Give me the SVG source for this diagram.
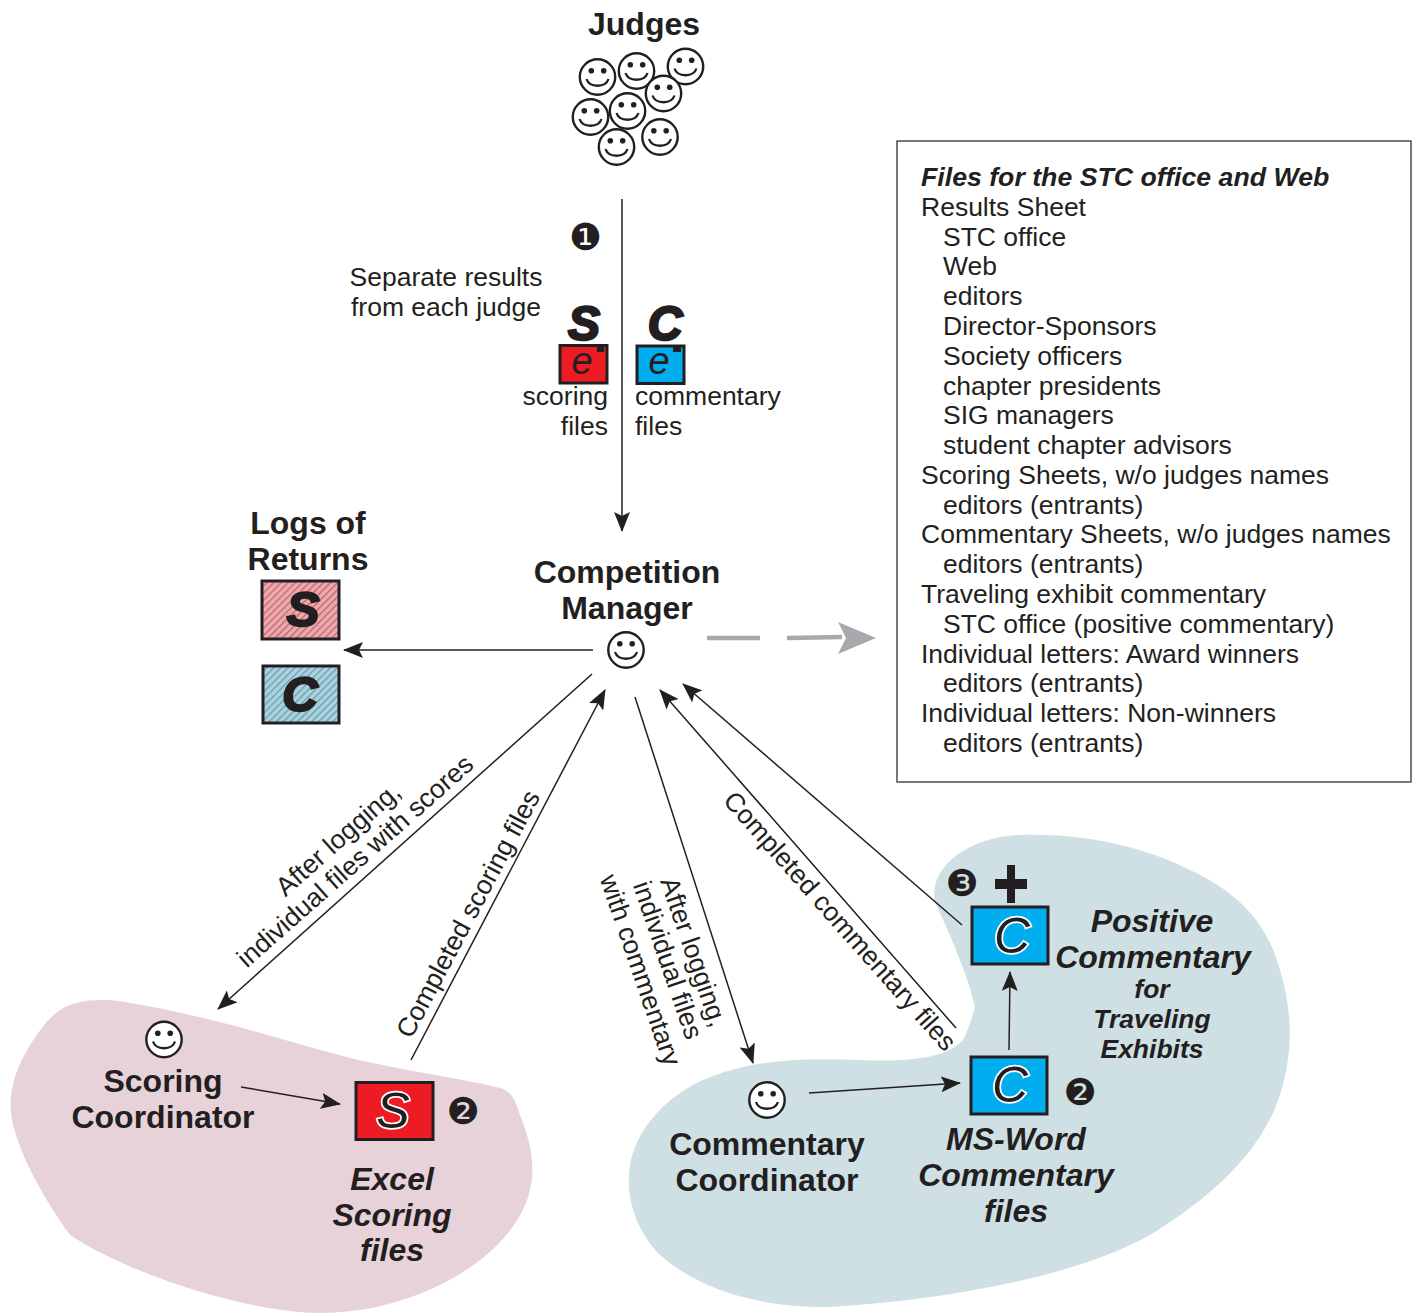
<svg xmlns="http://www.w3.org/2000/svg" width="1417" height="1313" viewBox="0 0 1417 1313">
<style>
text{font-family:"Liberation Sans",Arial,sans-serif;fill:#231f20}
.b{font-size:26.5px}
.h{font-size:32px;font-weight:bold;text-anchor:middle}
.i{font-size:32px;font-weight:bold;font-style:italic;text-anchor:middle}
.ii{font-size:26.5px;font-weight:bold;font-style:italic;text-anchor:middle}
.m{text-anchor:middle;dominant-baseline:central}
.e{text-anchor:end}
.n{font-family:"DejaVu Sans",sans-serif;font-size:37px;text-anchor:middle}
.box{stroke:#231f20;stroke-width:3}
.big{font-size:48px;font-weight:bold;font-style:italic;text-anchor:middle;stroke:#231f20;stroke-width:2.4}
.log{font-size:49px;font-weight:bold;font-style:italic;text-anchor:middle;stroke:#231f20;stroke-width:2.4}
.e1{font-size:38px;font-style:italic;text-anchor:middle}
.out{font-size:50px;font-style:italic;text-anchor:middle;stroke:#fff;stroke-width:3.4;paint-order:stroke}
.ln{fill:none;stroke:#231f20;stroke-width:1.5;marker-end:url(#a)}
</style>
<defs>
<marker id="a" markerUnits="userSpaceOnUse" markerWidth="20" markerHeight="16" refX="19" refY="8" orient="auto"><path d="M0,0L20,8L0,16L4,8Z" fill="#231f20"/></marker>
<pattern id="hp" width="5" height="5" patternUnits="userSpaceOnUse" patternTransform="rotate(45)"><rect width="5" height="5" fill="#f4a6ab"/><rect width="1.3" height="5" fill="#a97075"/></pattern>
<pattern id="hb" width="5" height="5" patternUnits="userSpaceOnUse" patternTransform="rotate(45)"><rect width="5" height="5" fill="#a9d3e1"/><rect width="1.3" height="5" fill="#6f9aa8"/></pattern>
<symbol id="smile" overflow="visible" viewBox="-20 -20 40 40" width="40" height="40">
<circle r="17.7" fill="#fff" stroke="#231f20" stroke-width="2.4"/>
<circle cx="-6.2" cy="-6.3" r="2.8" fill="#231f20"/><circle cx="6.2" cy="-6.3" r="2.8" fill="#231f20"/>
<path d="M-11,2C-8,11 8,11 11,2" fill="none" stroke="#231f20" stroke-width="2.3"/>
</symbol>
</defs>

<g id="blob-scoring"><path d="M60,1010C75,1000 100,998 125,1002C200,1014 270,1036 350,1058C400,1070 460,1078 500,1088C514,1092 516,1104 520,1115C530,1140 536,1165 530,1190C522,1225 490,1260 440,1285C400,1304 360,1313 320,1313C250,1313 130,1275 70,1235C45,1200 22,1160 13,1125C6,1095 15,1070 30,1045C40,1030 48,1018 60,1010Z" fill="#e8d2da"/></g>
<g id="blob-commentary"><path d="M1020,835C1080,833 1140,845 1190,870C1240,893 1268,925 1280,970C1292,1010 1294,1050 1280,1095C1262,1150 1215,1195 1150,1235C1080,1275 950,1300 830,1307C760,1308 700,1290 660,1255C635,1230 625,1195 630,1165C636,1130 665,1095 710,1077C760,1058 810,1058 860,1060C900,1062 945,1060 963,1040C968,1030 972,1018 975,1007C968,975 950,935 935,902C928,870 965,837 1020,835Z" fill="#cfe0e5"/></g>

<g id="connectors">
<path class="ln" d="M622,199V531"/>
<path class="ln" d="M593,650H344"/>
<path class="ln" d="M592,674L218,1009"/>
<path class="ln" d="M411,1060L605,690"/>
<path class="ln" d="M635,697L753,1063"/>
<path class="ln" d="M956,1028L660,690"/>
<path class="ln" d="M962,925L683,684"/>
<path class="ln" d="M241,1087L340,1104"/>
<path class="ln" d="M809,1093L960,1083"/>
<path class="ln" d="M1009,1050L1010,972"/>
<path d="M707,638H760M787,638L842,637" fill="none" stroke="#a7a9ac" stroke-width="4.5"/>
<path d="M838,622L876,638L838,654L846,638Z" fill="#a7a9ac"/>
</g>

<g id="judges">
<text class="h" x="644" y="35">Judges</text>
<use href="#smile" x="577.5" y="57"/><use href="#smile" x="616.5" y="51"/><use href="#smile" x="665.5" y="46.5"/><use href="#smile" x="643.5" y="73.5"/><use href="#smile" x="570.5" y="97"/><use href="#smile" x="607.5" y="91"/><use href="#smile" x="596.5" y="127"/><use href="#smile" x="640" y="117"/>
</g>

<g id="step1">
<text class="n" x="585.5" y="250">❶</text>
<text class="b" x="446" y="286" text-anchor="middle">Separate results</text>
<text class="b" x="446" y="316" text-anchor="middle">from each judge</text>
</g>

<g id="scoring-files">
<text class="big" x="584" y="340">S</text>
<rect class="box" x="560" y="345.5" width="47" height="37.5" fill="#ed1c24"/>
<rect x="597" y="347" width="7" height="5" fill="#231f20"/>
<text class="e1" x="582" y="374">e</text>
<text class="b e" x="608" y="405">scoring</text>
<text class="b e" x="608" y="435">files</text>
</g>
<g id="commentary-files">
<text class="big" x="665" y="340">C</text>
<rect class="box" x="637" y="346" width="47" height="37.5" fill="#00aeef"/>
<rect x="673" y="347" width="8" height="5" fill="#231f20"/>
<text class="e1" x="659" y="374">e</text>
<text class="b" x="635" y="405">commentary</text>
<text class="b" x="635" y="435">files</text>
</g>

<g id="logs">
<text class="h" x="308" y="534">Logs of</text>
<text class="h" x="308" y="570">Returns</text>
<rect class="box" x="262" y="581" width="77" height="58" fill="url(#hp)"/>
<text class="log" x="303" y="626">S</text>
<rect class="box" x="263" y="666" width="76" height="57" fill="url(#hb)"/>
<text class="log" x="300" y="711">C</text>
</g>

<g id="manager">
<text class="h" x="627" y="583">Competition</text>
<text class="h" x="627" y="619">Manager</text>
<use href="#smile" x="606" y="630"/>
</g>

<g id="files-box">
<rect x="897" y="141" width="514" height="641" fill="#fff" stroke="#231f20" stroke-width="1.2"/>
<text class="b" x="921" y="186" font-weight="bold" font-style="italic" style="font-size:26.7px">Files for the STC office and Web</text>
<text class="b" x="921" y="216">Results Sheet</text>
<text class="b" x="943" y="246">STC office</text>
<text class="b" x="943" y="275">Web</text>
<text class="b" x="943" y="305">editors</text>
<text class="b" x="943" y="335">Director-Sponsors</text>
<text class="b" x="943" y="365">Society officers</text>
<text class="b" x="943" y="395">chapter presidents</text>
<text class="b" x="943" y="424">SIG managers</text>
<text class="b" x="943" y="454">student chapter advisors</text>
<text class="b" x="921" y="484">Scoring Sheets, w/o judges names</text>
<text class="b" x="943" y="514">editors (entrants)</text>
<text class="b" x="921" y="543">Commentary Sheets, w/o judges names</text>
<text class="b" x="943" y="573">editors (entrants)</text>
<text class="b" x="921" y="603">Traveling exhibit commentary</text>
<text class="b" x="943" y="633">STC office (positive commentary)</text>
<text class="b" x="921" y="663">Individual letters: Award winners</text>
<text class="b" x="943" y="692">editors (entrants)</text>
<text class="b" x="921" y="722">Individual letters: Non-winners</text>
<text class="b" x="943" y="752">editors (entrants)</text>
</g>

<g id="connector-labels">
<text class="b m" transform="translate(338,839) rotate(-41.5)">After logging,</text>
<text class="b m" transform="translate(355,861) rotate(-41.5)">individual files with scores</text>
<text class="b m" transform="translate(468,914) rotate(-62)">Completed scoring files</text>
<text class="b m" transform="translate(694,952) rotate(71)">After logging,</text>
<text class="b m" transform="translate(668,960) rotate(71)">individual files</text>
<text class="b m" transform="translate(640.5,970) rotate(71)">with commentary</text>
<text class="b m" transform="translate(840,921) rotate(48.5)">Completed commentary files</text>
</g>

<g id="scoring-coordinator">
<use href="#smile" x="144" y="1019.5"/>
<text class="h" x="163" y="1092">Scoring</text>
<text class="h" x="163" y="1128">Coordinator</text>
</g>
<g id="excel-files">
<rect class="box" x="356" y="1082.5" width="77" height="57" fill="#ed1c24"/>
<text class="out" x="393" y="1128">S</text>
<text class="n" x="463" y="1124">❷</text>
<text class="i" x="392" y="1190">Excel</text>
<text class="i" x="392" y="1226">Scoring</text>
<text class="i" x="392" y="1261">files</text>
</g>
<g id="commentary-coordinator">
<use href="#smile" x="747" y="1080"/>
<text class="h" x="767" y="1155">Commentary</text>
<text class="h" x="767" y="1191">Coordinator</text>
</g>
<g id="word-files">
<rect class="box" x="971" y="1057" width="76" height="57" fill="#00aeef"/>
<text class="out" x="1010" y="1102">C</text>
<text class="n" x="1080" y="1105">❷</text>
<text class="i" x="1016" y="1150">MS-Word</text>
<text class="i" x="1016" y="1186">Commentary</text>
<text class="i" x="1016" y="1222">files</text>
</g>
<g id="positive-files">
<text class="n" x="962" y="896">❸</text>
<path d="M1007,865H1015V879H1027V889H1015V903H1007V889H995V879H1007Z" fill="#231f20"/>
<rect class="box" x="972" y="907" width="76" height="57" fill="#00aeef"/>
<text class="out" x="1012" y="953">C</text>
<text class="i" x="1152" y="932">Positive</text>
<text class="i" x="1153" y="968">Commentary</text>
<text class="ii" x="1152" y="998">for</text>
<text class="ii" x="1152" y="1028">Traveling</text>
<text class="ii" x="1152" y="1058">Exhibits</text>
</g>
</svg>
